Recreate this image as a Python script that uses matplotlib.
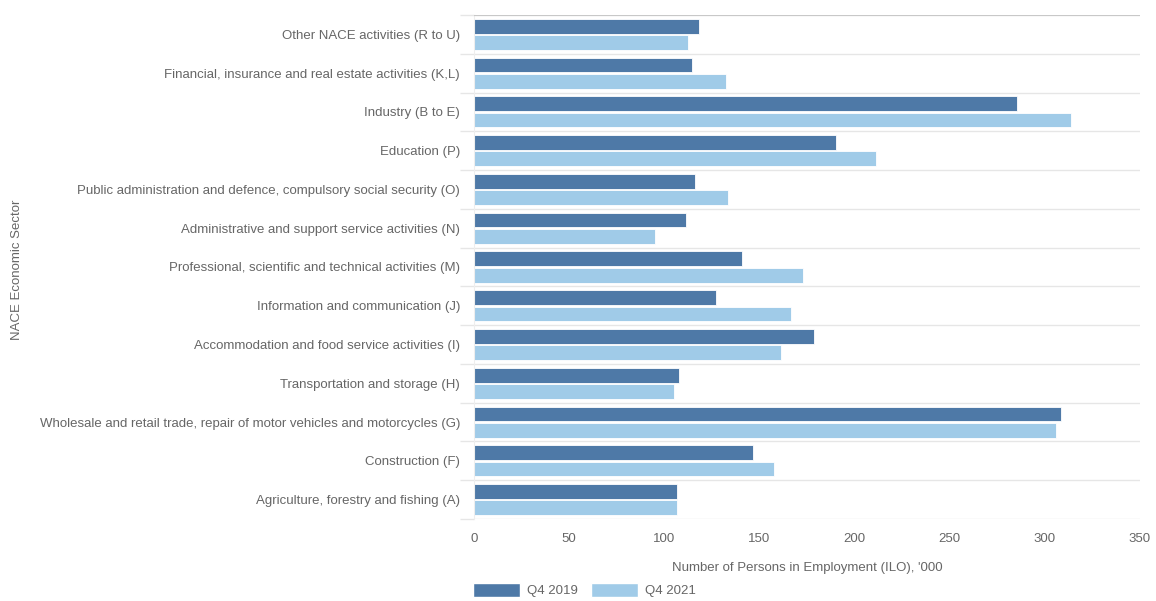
import matplotlib
matplotlib.use("Agg")
import matplotlib.pyplot as plt
import numpy as np
from matplotlib.patches import Patch

categories = [
    "Other NACE activities (R to U)",
    "Financial, insurance and real estate activities (K,L)",
    "Industry (B to E)",
    "Education (P)",
    "Public administration and defence, compulsory social security (O)",
    "Administrative and support service activities (N)",
    "Professional, scientific and technical activities (M)",
    "Information and communication (J)",
    "Accommodation and food service activities (I)",
    "Transportation and storage (H)",
    "Wholesale and retail trade, repair of motor vehicles and motorcycles (G)",
    "Construction (F)",
    "Agriculture, forestry and fishing (A)",
]
q4_2019 = [118, 114.6, 285.6, 190, 116.2, 111.6, 140.7, 127, 178.7, 107.6, 308.6, 146.8, 106.5]
q4_2021 = [112.7, 132.4, 313.7, 211, 133.6, 95.1, 172.9, 166.4, 161.3, 105.3, 305.6, 157.9, 106.5]
series_names = ["Q4 2019", "Q4 2021"]
xticks = [0, 50, 100, 150, 200, 250, 300, 350]

plt.rcParams['font.family'] = ['Liberation Sans', 'DejaVu Sans']
txt = '#666666'
c1, c2 = '#4E79A7', '#A0CBE8'

fig = plt.figure(figsize=(11.56, 6.01), dpi=100)
ax = fig.add_axes([474/1156, 1-519/601, (1140-474)/1156, (519-15)/601])

n = len(categories)
y = np.arange(n)
h = 0.38
ax.barh(y - h/2 - 0.02, q4_2019, height=h, color=c1, edgecolor='white', linewidth=0.6)
ax.barh(y + h/2 + 0.02, q4_2021, height=h, color=c2, edgecolor='white', linewidth=0.6)

ax.set_ylim(n - 0.5, -0.5)
ax.set_xlim(0, 350)
ax.set_xticks(xticks)
ax.set_xticklabels([str(t) for t in xticks], color=txt, fontsize=9.5)
ax.tick_params(axis='x', length=0, pad=10)
ax.set_yticks(y)
ax.set_yticklabels(categories, color=txt, fontsize=9.5)
ax.tick_params(axis='y', length=0, pad=10)
ax.set_yticks(np.arange(-0.5, n, 1), minor=True)
ax.tick_params(axis='y', which='minor', length=10, color='#e6e6e6', width=1)
for b in np.arange(0.5, n - 0.5, 1):
    ax.axhline(b, color='#e6e6e6', linewidth=1, zorder=0)
ax.axhline(-0.5, color='#c8c8c8', linewidth=1.6, zorder=3)
ax.axhline(n - 0.5, color='#e6e6e6', linewidth=1, zorder=0)
for s in ['top', 'right', 'bottom']:
    ax.spines[s].set_visible(False)
ax.spines['left'].set_color('#eeeeee')
ax.spines['left'].set_linewidth(0.8)

ax.set_xlabel("Number of Persons in Employment (ILO), '000", color=txt, fontsize=9.5, labelpad=12)
fig.text(17/1156, 1-270/601, "NACE Economic Sector", rotation=90, color=txt, fontsize=9.5,
         ha='center', va='center')

handles = [Patch(facecolor=c1, edgecolor='white'), Patch(facecolor=c2, edgecolor='white')]
fig.legend(handles, series_names, loc='lower left', bbox_to_anchor=(470/1156, 0.002),
           frameon=False, ncol=2, fontsize=9.5, labelcolor=txt, handlelength=3.6,
           handleheight=1.3, handletextpad=0.5, columnspacing=1.0, borderaxespad=0, borderpad=0.2)

fig.savefig("out.png", dpi=100, facecolor='white')
